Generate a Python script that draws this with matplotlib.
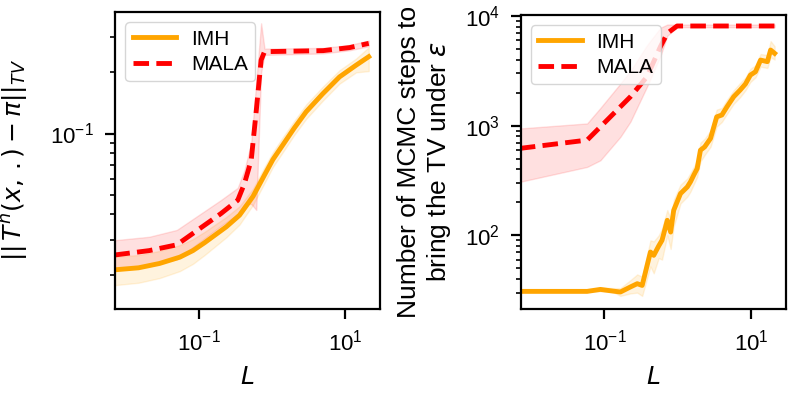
import matplotlib
matplotlib.use("Agg")
import matplotlib.pyplot as plt
from matplotlib.ticker import NullLocator

plt.rcParams["font.family"] = ["Liberation Sans", "DejaVu Sans"]

# --- left panel: TV distance vs L ---
imh_tv_L = [0.007, 0.015, 0.029, 0.055, 0.083, 0.12, 0.237, 0.36, 0.55, 0.8,
            1.03, 1.41, 2.0, 2.93, 4.94, 8.36, 14.1, 21]
imh_tv = [0.0213, 0.0218, 0.0229, 0.0246, 0.0265, 0.029, 0.0347, 0.0396, 0.049, 0.063,
          0.0745, 0.088, 0.106, 0.128, 0.157, 0.19, 0.217, 0.239]
imh_tv_lo = [0.0179, 0.0184, 0.0194, 0.0210, 0.0228, 0.0252, 0.0308, 0.0356, 0.0445, 0.0575,
             0.0685, 0.081, 0.098, 0.118, 0.145, 0.176, 0.200, 0.203]
imh_tv_hi = [0.0247, 0.0252, 0.0264, 0.0282, 0.0302, 0.0328, 0.0388, 0.0438, 0.0535, 0.069,
             0.081, 0.096, 0.115, 0.139, 0.17, 0.205, 0.234, 0.266]

mala_tv_L = [0.007, 0.021, 0.05, 0.2, 0.34, 0.42, 0.52, 0.61, 0.71, 0.79, 5.0, 11.5, 21]
mala_tv = [0.0252, 0.0265, 0.0283, 0.0403, 0.0469, 0.0567, 0.074, 0.13, 0.230, 0.253,
           0.256, 0.265, 0.278]
mala_tv_lo = [0.0215, 0.0225, 0.024, 0.035, 0.040, 0.045, 0.045, 0.042, 0.20, 0.244,
              0.248, 0.257, 0.269]
mala_tv_hi = [0.0298, 0.031, 0.0335, 0.047, 0.054, 0.066, 0.09, 0.18, 0.349, 0.262,
              0.264, 0.273, 0.287]

# --- right panel: steps needed vs L ---
imh_steps_L = [0.007, 0.058, 0.088, 0.13, 0.165, 0.226, 0.28, 0.327, 0.424, 0.47,
               0.55, 0.61, 0.72, 0.80, 0.88, 1.09, 1.35, 1.49, 1.65, 1.84,
               2.04, 2.33, 2.8, 3.4, 4.0, 4.7, 5.8, 7.1, 8.4, 9.8,
               11.5, 13.5, 16.7, 18.5, 21]
imh_steps = [30.8, 30.8, 32.1, 31.0, 30.4, 33.8, 36.2, 34.9, 70.4, 65.6,
             80, 90, 137, 107, 169, 240, 276, 307, 353, 406,
             597, 640, 764, 1202, 1250, 1486, 1834, 2110, 2400, 2890,
             3100, 3960, 3830, 4890, 4560]
imh_steps_lo = [30.8, 30.8, 30.8, 30.5, 28.0, 29.5, 30.0, 28.0, 52, 45,
                62, 60, 100, 75, 120, 195, 225, 250, 290, 340,
                470, 540, 640, 980, 1080, 1280, 1580, 1820, 2100, 2500,
                2750, 3450, 3350, 4200, 4000]
imh_steps_hi = [30.8, 30.8, 33.5, 33.0, 33.0, 39.0, 44.0, 42.0, 90, 88,
                100, 115, 170, 140, 210, 290, 330, 370, 420, 480,
                700, 760, 900, 1400, 1450, 1720, 2100, 2450, 2750, 3300,
                3550, 4500, 4400, 5900, 5300]

mala_steps_L = [0.007, 0.058, 0.088, 0.165, 0.226, 0.38, 0.58, 0.72, 0.98, 21]
mala_steps = [620, 738, 975, 1486, 1834, 2790, 5250, 6950, 8100, 8100]
mala_steps_lo = [307, 420, 483, 790, 1086, 2260, 4300, 6600, 7900, 7900]
mala_steps_hi = [942, 1047, 1450, 2420, 3150, 5400, 7800, 8350, 8350, 8350]

x_ticks = [0.1, 10]

ORANGE = "orange"
RED = "red"

fig = plt.figure(figsize=(7.89, 3.94), dpi=100)
ax1 = fig.add_axes([0.1458, 0.2170, 0.3359, 0.7525])
ax2 = fig.add_axes([0.6597, 0.2170, 0.3365, 0.7449])


def panel(ax, xi, yi, loi, hii, xm, ym, lom, him):
    ax.fill_between(xi, loi, hii, color=ORANGE, alpha=0.13)
    ax.fill_between(xm, lom, him, color=RED, alpha=0.12)
    ax.plot(xi, yi, color=ORANGE, lw=3.5, label="IMH")
    ax.plot(xm, ym, color=RED, lw=3.5, ls=(0, (3.2, 1.5)), label="MALA")
    ax.set_xscale("log")
    ax.set_yscale("log")
    ax.set_xlim(0.00715, 30)
    ax.set_xticks(x_ticks)
    ax.xaxis.set_minor_locator(NullLocator())
    ax.tick_params(which="major", length=7, width=1.6, labelsize=16, pad=8)
    ax.tick_params(which="minor", length=3.6, width=1.2)
    for s in ax.spines.values():
        s.set_linewidth(1.6)
    ax.set_xlabel("$L$", fontsize=18, labelpad=7)
    ax.legend(loc="upper left", fontsize=15, handlelength=2.1,
              handletextpad=0.7, labelspacing=0.3, borderpad=0.35)


panel(ax1, imh_tv_L, imh_tv, imh_tv_lo, imh_tv_hi,
      mala_tv_L, mala_tv, mala_tv_lo, mala_tv_hi)
ax1.set_ylim(0.01374, 0.3967)
ax1.set_ylabel(r"$||\,T^n(x,\,.) - \pi||_{TV}$", fontsize=18)
ax1.yaxis.set_label_coords(-0.32, 0.5)

panel(ax2, imh_steps_L, imh_steps, imh_steps_lo, imh_steps_hi,
      mala_steps_L, mala_steps, mala_steps_lo, mala_steps_hi)
ax2.set_ylim(21.5, 10200)
ax2.set_ylabel("Number of MCMC steps to\nbring the TV under $\\epsilon$", fontsize=19)
ax2.yaxis.set_label_coords(-0.254, 0.5)

fig.savefig("out.png", dpi=100)
